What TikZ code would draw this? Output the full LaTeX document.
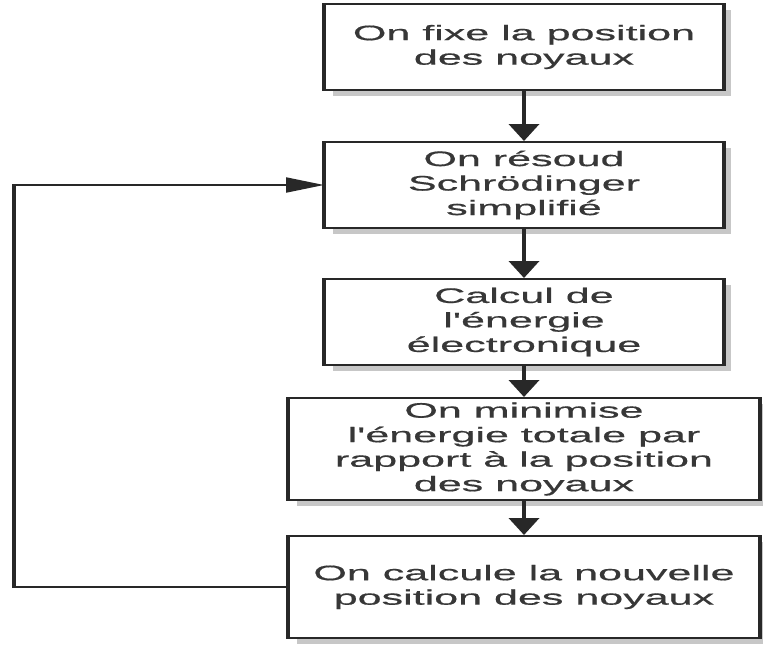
\documentclass[tikz,border=0pt]{standalone}
\usepackage{fontspec}
\setmainfont[FakeStretch=2.05,FakeBold=0.6,Ligatures=TeXOff]{Liberation Sans}
\usetikzlibrary{arrows.meta,shadows}
\definecolor{ink}{RGB}{40,40,40}
\definecolor{txt}{RGB}{55,55,55}
\tikzset{
  box/.style={draw=ink, line width=2pt, fill=white, rectangle, align=center,
    text=txt, inner sep=0pt,
    font=\fontsize{21}{24.5}\selectfont,
    drop shadow={shadow xshift=8pt, shadow yshift=-6pt, fill=black, opacity=0.22}},
  narrowbox/.style={box, minimum width=398pt, minimum height=86pt},
  widebox/.style={box, minimum width=470pt, minimum height=102pt},
  vshaft/.style={draw=ink, line width=4pt, -{Triangle[length=17pt,width=30pt]}},
  hline/.style={draw=ink, line width=2pt},
  vline/.style={draw=ink, line width=4.5pt},
}
\begin{document}
\begin{tikzpicture}[x=1pt,y=-1pt]
\useasboundingbox (0,0) rectangle (763,645);
\node[narrowbox] (b1) at (524,47) {On fixe la position\\des noyaux};
\node[narrowbox] (b2) at (524,185) {On résoud\\Schrödinger\\simplifié};
\node[narrowbox] (b3) at (524,322) {Calcul de\\l'énergie\\électronique};
\node[widebox] (b4) at (524,449) {On minimise\\l'énergie totale par\\rapport à la position\\des noyaux};
\node[widebox] (b5) at (524,587) {On calcule la nouvelle\\position des noyaux};
\foreach \n in {b1,b2,b3,b4,b5}{
  \draw[draw=ink, line width=4pt] (\n.north west) -- (\n.south west) (\n.north east) -- (\n.south east);
}
\draw[vshaft] (b1.south) -- (b2.north);
\draw[vshaft] (b2.south) -- (b3.north);
\draw[vshaft] (b3.south) -- (b4.north);
\draw[vshaft] (b4.south) -- (b5.north);
\coordinate (c1) at (14,587);
\coordinate (c2) at (14,185);
\draw[hline] (b5.west) -- (c1);
\draw[vline] ([yshift=-1pt]c1) -- ([yshift=1pt]c2);
\draw[hline, -{Triangle[length=38pt,width=15pt]}] (c2) -- (b2.west);
\end{tikzpicture}
\end{document}
